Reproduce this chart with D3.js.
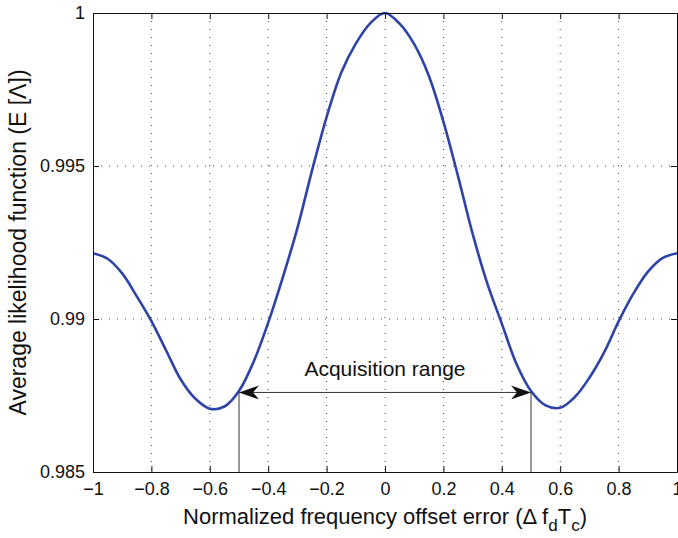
<!DOCTYPE html>
<html>
<head>
<meta charset="utf-8">
<script src="https://cdn.jsdelivr.net/npm/d3@7"></script>
<style>
  body { margin: 0; background: #fff; }
  text { font-family: "Liberation Sans", Arial, sans-serif; fill: #111; }
</style>
</head>
<body>
<svg id="chart"></svg>
<script>
var width = 678, height = 538
var margin = { top: 13, left: 93, right: 1, bottom: 66 }

var offsetX = [-1, -0.95, -0.9, -0.85, -0.8, -0.75, -0.7, -0.65, -0.6, -0.55, -0.5, -0.45, -0.4, -0.35, -0.3, -0.25, -0.2, -0.15, -0.1, -0.05,
  0, 0.05, 0.1, 0.15, 0.2, 0.25, 0.3, 0.35, 0.4, 0.45, 0.5, 0.55, 0.6, 0.65, 0.7, 0.75, 0.8, 0.85, 0.9, 0.95, 1]
var likelihood = [0.99215, 0.99197, 0.99149, 0.99074, 0.98993, 0.98898, 0.98803, 0.98740, 0.98707, 0.98714, 0.98765, 0.98860, 0.98988, 0.99136, 0.99297, 0.99485, 0.99660, 0.99805, 0.99900, 0.99967,
  1.0, 0.99965, 0.99898, 0.99795, 0.99645, 0.99467, 0.99279, 0.99117, 0.98985, 0.98854, 0.98765, 0.98718, 0.98710, 0.98745, 0.98808, 0.98890, 0.98992, 0.99082, 0.99154, 0.99199, 0.99215]
var xTicks = [-1, -0.8, -0.6, -0.4, -0.2, 0, 0.2, 0.4, 0.6, 0.8, 1]
var yTicks = [0.985, 0.99, 0.995, 1]
var rangeEnds = [-0.5, 0.5]
var rangeLevel = 0.9876
var rangeLabel = 'Acquisition range'

var innerWidth = width - margin.left - margin.right
var innerHeight = height - margin.top - margin.bottom

var svg = d3.select('#chart').attr('width', width).attr('height', height)
var defs = svg.append('defs')
defs.append('marker')
    .attr('id', 'arrowHead')
    .attr('viewBox', '0 0 20 14')
    .attr('refX', 20).attr('refY', 7)
    .attr('markerWidth', 20).attr('markerHeight', 14)
    .attr('markerUnits', 'userSpaceOnUse')
    .attr('orient', 'auto-start-reverse')
    .append('path')
    .attr('d', 'M0,0 L20,7 L0,14 L6,7 Z')
    .attr('fill', '#111')

var g = svg.append('g').attr('transform', 'translate(' + margin.left + ',' + margin.top + ')')

var x = d3.scaleLinear().domain([-1, 1]).range([0, innerWidth])
var y = d3.scaleLinear().domain([0.985, 1]).range([innerHeight, 0])

// dotted grid
g.append('g').selectAll('line').data(xTicks.slice(1, -1)).enter().append('line')
    .attr('x1', function (d) { return x(d) }).attr('x2', function (d) { return x(d) })
    .attr('y1', 0).attr('y2', innerHeight)
    .attr('stroke', '#444').attr('stroke-width', 1).attr('stroke-dasharray', '1,7')
g.append('g').selectAll('line').data(yTicks.slice(1, -1)).enter().append('line')
    .attr('y1', function (d) { return y(d) }).attr('y2', function (d) { return y(d) })
    .attr('x1', 0).attr('x2', innerWidth)
    .attr('stroke', '#444').attr('stroke-width', 1).attr('stroke-dasharray', '1,7')

// acquisition range markers
g.append('g').selectAll('line').data(rangeEnds).enter().append('line')
    .attr('x1', function (d) { return x(d) }).attr('x2', function (d) { return x(d) })
    .attr('y1', y(rangeLevel)).attr('y2', innerHeight)
    .attr('stroke', '#333').attr('stroke-width', 1)
g.append('line')
    .attr('x1', x(rangeEnds[0])).attr('x2', x(rangeEnds[1]))
    .attr('y1', y(rangeLevel)).attr('y2', y(rangeLevel))
    .attr('stroke', '#333').attr('stroke-width', 1)
    .attr('marker-start', 'url(#arrowHead)')
    .attr('marker-end', 'url(#arrowHead)')
g.append('text')
    .attr('x', x(0)).attr('y', y(rangeLevel) - 16)
    .attr('text-anchor', 'middle')
    .style('font-size', '21px')
    .text(rangeLabel)

// curve
var line = d3.line()
    .x(function (d, i) { return x(offsetX[i]) })
    .y(function (d) { return y(d) })
    .curve(d3.curveCatmullRom)
g.append('path')
    .datum(likelihood)
    .attr('d', line)
    .attr('fill', 'none')
    .attr('stroke', '#2E43A6')
    .attr('stroke-width', 2.6)

// axes with inward ticks on all sides
var fmtX = function (d) { return d3.format('')(d).replace('-', '\u2212') }
g.append('g').attr('transform', 'translate(0,' + innerHeight + ')')
    .call(d3.axisBottom(x).tickValues(xTicks).tickSizeInner(-6).tickSizeOuter(0).tickPadding(10).tickFormat(fmtX))
g.append('g').attr('class', 'mirror')
    .call(d3.axisTop(x).tickValues(xTicks).tickSizeInner(-6).tickSizeOuter(0))
g.append('g').call(d3.axisLeft(y).tickValues(yTicks).tickSizeInner(-6).tickSizeOuter(0).tickPadding(8).tickFormat(d3.format('')))
g.append('g').attr('class', 'mirror').attr('transform', 'translate(' + innerWidth + ',0)')
    .call(d3.axisRight(y).tickValues(yTicks).tickSizeInner(-6).tickSizeOuter(0))
g.selectAll('.mirror text').remove()
g.selectAll('.domain').attr('stroke', '#111')
g.selectAll('.tick line').attr('stroke', '#111')
g.selectAll('.tick text').style('font-size', '18px').style('font-family', '"Liberation Sans", Arial, sans-serif').attr('fill', '#111')

// axis titles
var xTitle = svg.append('text')
    .attr('x', margin.left + x(0)).attr('y', 524)
    .attr('text-anchor', 'middle')
    .style('font-size', '22px')
xTitle.append('tspan').text('Normalized frequency offset error (\u0394 f')
xTitle.append('tspan').attr('dy', 7).style('font-size', '17px').text('d')
xTitle.append('tspan').attr('dy', -7).text('T')
xTitle.append('tspan').attr('dy', 7).style('font-size', '17px').text('c')
xTitle.append('tspan').attr('dy', -7).text(')')

svg.append('text')
    .attr('transform', 'translate(26,' + (margin.top + innerHeight / 2) + ') rotate(-90)')
    .attr('text-anchor', 'middle')
    .style('font-size', '23px')
    .text('Average likelihood function (E [\u039B])')
</script>
</body>
</html>
